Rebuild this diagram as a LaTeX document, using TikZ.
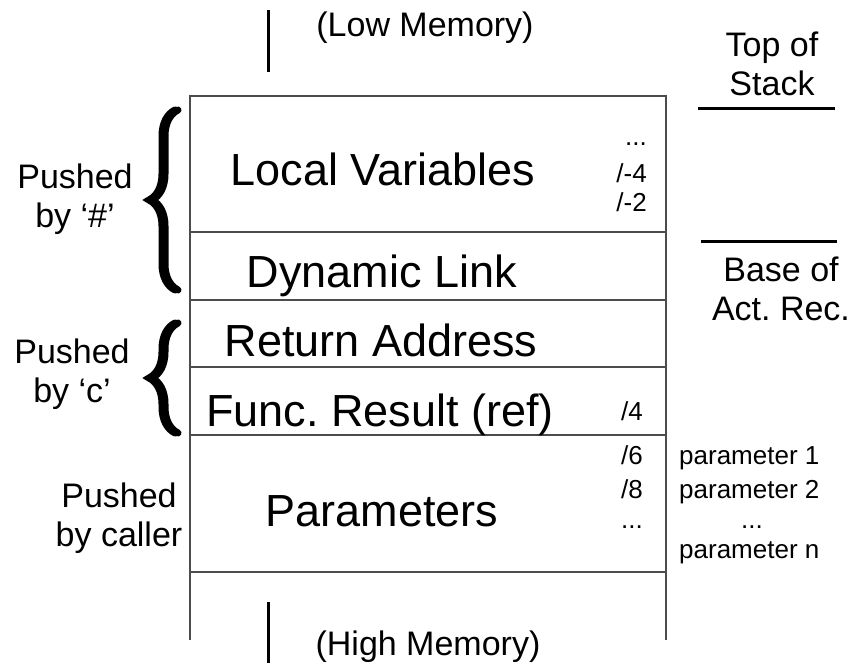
\documentclass[tikz,border=0pt]{standalone}
\usepackage{fontspec}
\setmainfont{Liberation Sans}
\usetikzlibrary{decorations.pathreplacing}
\frenchspacing

\begin{document}
\begin{tikzpicture}[x=1pt, y=-1pt,
  secname/.style={font=\fontsize{45}{50}\selectfont, inner sep=0pt, anchor=base},
  sidelbl/.style={font=\fontsize{34}{39}\selectfont, inner sep=0pt, align=center, anchor=base},
  offlbl/.style={font=\fontsize{26}{31}\selectfont, inner sep=0pt},
  recline/.style={line width=2pt, draw=black!70},
  tick/.style={line width=3pt},
  bracemark/.style={decorate, decoration={brace, amplitude=26pt}, line width=7pt, line cap=round}]
\useasboundingbox (0,0) rectangle (852,663);
% the activation record
\draw[recline] (190,640) -- (190,96) -- (666,96) -- (666,640);
\foreach \y in {232,300,367,435,572}
  \draw[recline] (190,\y) -- (666,\y);
\node[secname] (locvar) at (383,186) {Local Variables};
\node[secname] (dynlink) at (382,288) {Dynamic Link};
\node[secname] (retaddr) at (381,356) {Return Address};
\node[secname] (funcres) at (380,426) {Func. Result (ref)};
\node[secname] (params) at (382,526) {Parameters};
% offsets
\node[offlbl, anchor=base east] (offdots) at (647,146) {...};
\node[offlbl, anchor=base east] (offm4) at (647,183) {/-4};
\node[offlbl, anchor=base east] (offm2) at (647,212) {/-2};
\node[offlbl, anchor=base east] (off4) at (643,420) {/4};
\node[offlbl, anchor=base east] (off6) at (643,464) {/6};
\node[offlbl, anchor=base east] (off8) at (643,498) {/8};
\node[offlbl, anchor=base east] (offmore) at (643,528) {...};
% parameter list
\node[offlbl, anchor=base west] (par1) at (679,464) {parameter 1};
\node[offlbl, anchor=base west] (par2) at (679,498) {parameter 2};
\node[offlbl, anchor=base] (pardots) at (752,528) {...};
\node[offlbl, anchor=base west] (parn) at (679,558) {parameter n};
% memory direction
\draw[tick] (268,10) -- (268,72);
\draw[tick] (268,602) -- (268,663);
\node[sidelbl] (lowmem) at (425,37) {(Low Memory)};
\node[sidelbl] (highmem) at (428,655) {(High Memory)};
% stack pointers (base anchor sits on the last line)
\node[sidelbl] (tos) at (772,96) {Top of\\Stack};
\draw[tick] (698,109) -- (835,109);
\draw[tick] (701,242) -- (837,242);
\node[sidelbl] (base) at (781,320) {Base of\\Act. Rec.};
% who pushes what (each brace drawn twice, a little apart, for a heavy stroke)
\node[sidelbl] (bynum) at (75,228) {Pushed\\by ‘\#’};
\node[sidelbl] (byc) at (72,402) {Pushed\\by ‘c’};
\node[sidelbl] (bycaller) at (119,546) {Pushed\\by caller};
\foreach \dx in {0,3} {
  \draw[bracemark, xshift=\dx pt] (175,290) -- (175,110);
  \draw[bracemark, xshift=\dx pt] (175,433) -- (175,323);
}
\end{tikzpicture}
\end{document}
